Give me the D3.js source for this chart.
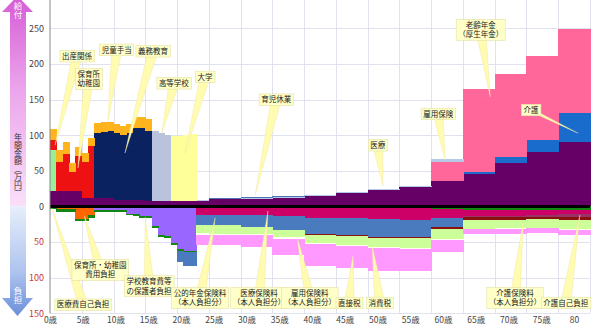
<!DOCTYPE html>
<html>
<head>
<meta charset="utf-8">
<script src="https://cdn.jsdelivr.net/npm/d3@7"></script>
<style>
  body { margin: 0; background: #fff; }
  svg { display: block; }
</style>
</head>
<body>
<svg id="chart" width="594" height="334"></svg>
<script>
// Age categories (single years) and axis tick labels
const ages = d3.range(0, 85);
const ageTicks = [0, 5, 10, 15, 20, 25, 30, 35, 40, 45, 50, 55, 60, 65, 70, 75, 80];
const ageTickLabels = ["0歳","5歳","10歳","15歳","20歳","25歳","30歳","35歳","40歳","45歳","50歳","55歳","60歳","65歳","70歳","75歳","80"];
const valueTicks = [-150, -100, -50, 0, 50, 100, 150, 200, 250];

// Values in 万円 per year, as runs: [first age, last age, value]
// --- benefits (給付) ---
const medical        = [[0,4,22],[5,9,12.5],[10,14,9],[15,19,8],[20,24,8],[25,29,10],[30,34,11],[35,39,12],[40,44,15],[45,49,19],[50,54,23],[55,59,27.5],[60,64,36],[65,69,45.5],[70,74,61],[75,79,76.5],[80,84,90.5]];
const care           = [[65,69,3],[70,74,9],[75,79,16.5],[80,84,40.5]];
const oldAgePension  = [[60,64,26],[65,69,117],[70,74,116],[75,79,118],[80,84,118]];
const employmentBen  = [[23,59,1.2],[60,64,4]];
const childcareLeave = [[25,39,1.3]];
const birth          = [[0,0,57]];
const nursery        = [[0,0,14],[1,1,41],[2,2,52],[3,3,27],[4,4,49],[5,5,50],[6,6,72]];
const compulsoryEdu  = [[7,7,91],[8,8,92.5],[9,9,93.5],[10,10,94],[11,11,91],[12,12,94],[13,13,101],[14,14,101],[15,15,98.5]];
const highSchool     = [[16,16,98],[17,17,95],[18,18,92.5]];
const university     = [[19,19,91],[20,20,91],[21,21,92.5],[22,22,94]];
const childAllowance = [[0,0,16],[1,1,17],[2,2,17],[3,3,12],[4,4,12],[5,5,12.5],[6,6,11],[7,7,13.5],[8,8,14],[9,9,13],[10,10,13],[11,11,13],[12,12,13.5],[13,13,16],[14,14,16],[15,15,16]];

// --- burdens (負担) ---
const nurseryFee     = [[1,3,4],[4,5,17],[6,6,12]];
const schoolFee      = [[7,11,5],[12,12,10],[13,13,11],[14,15,13],[16,16,28],[17,17,40],[18,18,42],[19,19,51],[20,20,60],[21,22,62]];
const medicalCopay   = [[0,6,3.5],[7,59,2.5],[60,64,3.5],[65,84,4.5]];
const healthPremium  = [[23,29,9],[30,34,10],[35,39,11],[40,49,13.4],[50,54,15.5],[55,59,17],[60,64,12],[65,74,9.4],[75,79,7.7],[80,84,6]];
const pensionPremium = [[20,20,16],[21,22,19],[23,24,14.7],[25,29,15],[30,34,16.4],[35,39,19.7],[40,44,23],[45,54,24.6],[55,59,23.6],[60,64,14]];
const careCopay      = [[65,69,0.5],[70,74,1],[75,79,2],[80,84,4]];
const carePremium    = [[40,59,1.2],[60,64,1.5],[65,79,4],[80,84,5]];
const consumptionTax = [[23,24,10.8],[25,29,11.7],[30,34,9.4],[35,39,10],[40,44,11.2],[45,49,12],[50,54,13.3],[55,59,14],[60,64,15],[65,69,12.6],[70,74,11.2],[75,79,11.7],[80,84,12.2]];
const employmentPrem = [[23,39,2.4],[40,59,1.5],[60,84,1]];
const directTax      = [[23,29,14],[30,34,16.4],[35,39,23],[40,44,31],[45,49,30.5],[50,54,31.5],[55,59,31],[60,64,17],[65,69,6.6],[70,74,7],[75,79,6.3],[80,84,7]];

// Stack order: benefits upward, burdens downward (first = nearest zero)
const benefits = [
  ["医療", medical], ["介護", care], ["老齢年金", oldAgePension], ["雇用保険", employmentBen],
  ["育児休業", childcareLeave], ["出産関係", birth], ["保育所・幼稚園", nursery],
  ["義務教育", compulsoryEdu], ["高等学校", highSchool], ["大学", university], ["児童手当", childAllowance]
];
const burdens = [
  ["保育所・幼稚園費用負担", nurseryFee], ["学校教育費等の保護者負担", schoolFee], ["医療費自己負担", medicalCopay],
  ["医療保険料", healthPremium], ["公的年金保険料", pensionPremium], ["介護自己負担", careCopay],
  ["介護保険料", carePremium], ["消費税", consumptionTax], ["雇用保険料", employmentPrem], ["直接税", directTax]
];

const colors = {
  "医療": "#660066", "介護": "#1a6ccc", "老齢年金": "#ff6699", "雇用保険": "#b4c8e8",
  "育児休業": "#4a74b4", "出産関係": "#99ee99", "保育所・幼稚園": "#ee1111",
  "義務教育": "#0b2260", "高等学校": "#b9c3db", "大学": "#ffff99", "児童手当": "#ffb41e",
  "保育所・幼稚園費用負担": "#ff6600", "学校教育費等の保護者負担": "#9966ff", "医療費自己負担": "#118811",
  "医療保険料": "#cc0066", "公的年金保険料": "#4a7bbf", "介護自己負担": "#993366",
  "介護保険料": "#8b1010", "消費税": "#ccff99", "雇用保険料": "#fffff0", "直接税": "#ff99ff"
};

function valueAt(runs, age) {
  const r = runs.find(([a, b]) => age >= a && age <= b);
  return r ? r[2] : 0;
}

const rows = ages.map(age => {
  const row = { age };
  benefits.forEach(([k, runs]) => row[k] = valueAt(runs, age));
  burdens.forEach(([k, runs]) => row[k] = -valueAt(runs, age));
  return row;
});
const keys = benefits.map(d => d[0]).concat(burdens.map(d => d[0]));
const layers = d3.stack().keys(keys).offset(d3.stackOffsetDiverging)(rows);

// Scales
const svg = d3.select("#chart");
const FONT = "'Noto Sans CJK JP', 'Noto Sans', sans-serif";
const x = d3.scaleBand().domain(ages).range([50, 590]).padding(0);
const xAt = a => x.range()[0] + a * x.step();
const y = d3.scaleLinear().domain([-150, 290]).range([313.3, 0]);

// Grid
const grid = svg.append("g").attr("stroke", "#e2e2ee").attr("stroke-width", 1);
valueTicks.filter(v => v !== 0).forEach(v => {
  grid.append("line").attr("x1", 50).attr("x2", 590).attr("y1", Math.round(y(v)) + 0.5).attr("y2", Math.round(y(v)) + 0.5);
});
d3.range(5, 90, 5).forEach(a => {
  const gx = Math.round(xAt(a)) + 0.5;
  grid.append("line").attr("x1", gx).attr("x2", gx).attr("y1", 0).attr("y2", y(-150));
});

// Stacked bars
const bars = svg.append("g").attr("shape-rendering", "crispEdges");
layers.forEach(layer => {
  bars.append("g").attr("fill", colors[layer.key])
    .selectAll("rect")
    .data(layer.filter(d => d[1] - d[0] !== 0))
    .join("rect")
    .attr("x", d => x(d.data.age))
    .attr("width", x.bandwidth() + 0.6)
    .attr("y", d => y(Math.max(d[0], d[1])))
    .attr("height", d => Math.abs(y(d[0]) - y(d[1])));
});

// Zero line
svg.append("line").attr("x1", 50).attr("x2", 590).attr("y1", y(0)).attr("y2", y(0))
  .attr("stroke", "#000").attr("stroke-width", 3);

// Value axis
const yAxis = svg.append("g").attr("transform", "translate(50,0)")
  .call(d3.axisLeft(y).tickValues(valueTicks).tickFormat(d => Math.abs(d)).tickSize(0).tickPadding(6));
yAxis.select(".domain").attr("stroke", "#888").attr("d", `M0,0V${y(-150)}`);
yAxis.selectAll("text").attr("font-family", FONT).attr("font-size", 9)
  .attr("fill", d => d < 0 ? "#cc3333" : "#444");

// Age axis labels
const xl = d3.scaleLinear().domain([0, 80]).range([50, 574]);
const xAxis = svg.append("g").attr("transform", `translate(0,${y(-150)})`)
  .call(d3.axisBottom(xl).tickValues(ageTicks).tickFormat((d, i) => ageTickLabels[i]).tickSize(0).tickPadding(4));
xAxis.select(".domain").remove();
xAxis.selectAll("text").attr("font-family", FONT).attr("font-size", 8.5).attr("fill", "#444");

// Callouts (box position and pointer tip in age / value coordinates)
const callouts = [
  { lines: ["出産関係"], box: [4.25, 211], tip: [0.8, 86] },
  { lines: ["保育所", "幼稚園"], box: [6.1, 179], tip: [4.4, 54] },
  { lines: ["児童手当"], box: [10.5, 220], tip: [9.1, 119] },
  { lines: ["義務教育"], box: [16.2, 218], tip: [11.8, 75] },
  { lines: ["高等学校"], box: [19.5, 173], tip: [17.6, 103] },
  { lines: ["大学"], box: [24.4, 182], tip: [21.25, 75] },
  { lines: ["育児休業"], box: [35.6, 150], tip: [32.3, 16] },
  { lines: ["医療"], box: [51.6, 86], tip: [52.4, 29] },
  { lines: ["雇用保険"], box: [61.1, 130], tip: [62.2, 65] },
  { lines: ["老齢年金", "（厚生年金）"], box: [67.8, 248], tip: [69.3, 154] },
  { lines: ["介護"], box: [75.7, 135.5], tip: [83.1, 103], thin: true },
  { lines: ["医療費自己負担"], box: [5.2, -138], tip: [0.3, -2] },
  { lines: ["保育所・幼稚園", "費用負担"], box: [7.9, -89], tip: [5.4, -13] },
  { lines: ["学校教育費等", "の保護者負担"], box: [15.6, -112], tip: [15, -15] },
  { lines: ["公的年金保険料", "（本人負担分）"], box: [23.6, -128.5], tip: [26, -16] },
  { lines: ["医療保険料", "（本人負担分）"], box: [32.9, -128.5], tip: [34.3, -6.3] },
  { lines: ["雇用保険料", "（本人負担分）"], box: [40.9, -128.5], tip: [38.9, -43] },
  { lines: ["直接税"], box: [47.1, -135.5], tip: [47.7, -69.5] },
  { lines: ["消費税"], box: [51.9, -135.5], tip: [50.7, -54] },
  { lines: ["介護保険料", "（本人負担分）"], box: [73.2, -128.5], tip: [74.5, -20] },
  { lines: ["介護自己負担"], box: [81.2, -135.5], tip: [83.4, -12] }
];

const cg = svg.append("g").attr("font-family", FONT).attr("font-size", 7.5);
const pointerLayer = cg.append("g");
const boxLayer = cg.append("g");
const LH = 9.5;
callouts.forEach(c => {
  const cx = xAt(c.box[0]), cy = y(c.box[1]);
  const tx = xAt(c.tip[0]), ty = y(c.tip[1]);
  const g = boxLayer.append("g");
  const rect = g.append("rect");
  const txt = g.append("text").attr("text-anchor", "middle").attr("fill", "#222");
  c.lines.forEach((l, i) => {
    txt.append("tspan").attr("x", cx)
      .attr("y", cy + (i - (c.lines.length - 1) / 2) * LH)
      .attr("dy", "0.36em").text(l);
  });
  const bb = txt.node().getBBox();
  const h = c.lines.length * LH + 2;
  rect.attr("x", bb.x - 2).attr("y", cy - h / 2).attr("width", bb.width + 4).attr("height", h)
    .attr("fill", "#ffffc8").attr("stroke", "#e4e0a4").attr("stroke-width", 0.6);
  const hw = c.thin ? 1.6 : 5;
  const dx = tx - cx, dy = ty - cy, len = Math.hypot(dx, dy);
  const px = -dy / len * hw, py = dx / len * hw;
  pointerLayer.append("path")
    .attr("d", `M${cx + px},${cy + py}L${tx},${ty}L${cx - px},${cy - py}Z`)
    .attr("fill", "#fffbb0").attr("stroke", "#ece69c").attr("stroke-width", 0.4);
});

// Side arrow: 給付 (up) / 負担 (down)
const defs = svg.append("defs");
const gUp = defs.append("linearGradient").attr("id", "gUp").attr("x1", 0).attr("y1", 0).attr("x2", 0).attr("y2", 1);
gUp.append("stop").attr("offset", "0%").attr("stop-color", "#d65ad6");
gUp.append("stop").attr("offset", "45%").attr("stop-color", "#eca6ec");
gUp.append("stop").attr("offset", "100%").attr("stop-color", "#f9e0f9");
const gDn = defs.append("linearGradient").attr("id", "gDn").attr("x1", 0).attr("y1", 0).attr("x2", 0).attr("y2", 1);
gDn.append("stop").attr("offset", "0%").attr("stop-color", "#e6eefb");
gDn.append("stop").attr("offset", "60%").attr("stop-color", "#aec3ee");
gDn.append("stop").attr("offset", "100%").attr("stop-color", "#6b8fd9");

const zeroY = y(0);
svg.append("path")
  .attr("d", `M2,12L17.5,-4L33,12L26,12L26,${zeroY}L10,${zeroY}L10,12Z`)
  .attr("fill", "url(#gUp)");
svg.append("path")
  .attr("d", `M10,${zeroY}L26,${zeroY}L26,298L33,298L17.5,316L2,298L10,298Z`)
  .attr("fill", "url(#gDn)");

// Vertical captions on the arrow
const side = svg.append("g").attr("font-family", FONT).attr("text-anchor", "start")
  .style("writing-mode", "vertical-rl");
side.append("text").attr("x", 18).attr("y", 2).attr("font-size", 8.5).attr("fill", "#fff").text("給付");
side.append("text").attr("x", 18).attr("y", 287).attr("font-size", 8.5).attr("fill", "#fff").text("負担");
side.append("text").attr("x", 18).attr("y", 133).attr("font-size", 8).attr("fill", "#333").text("年間金額（万円）");
</script>
</body>
</html>
